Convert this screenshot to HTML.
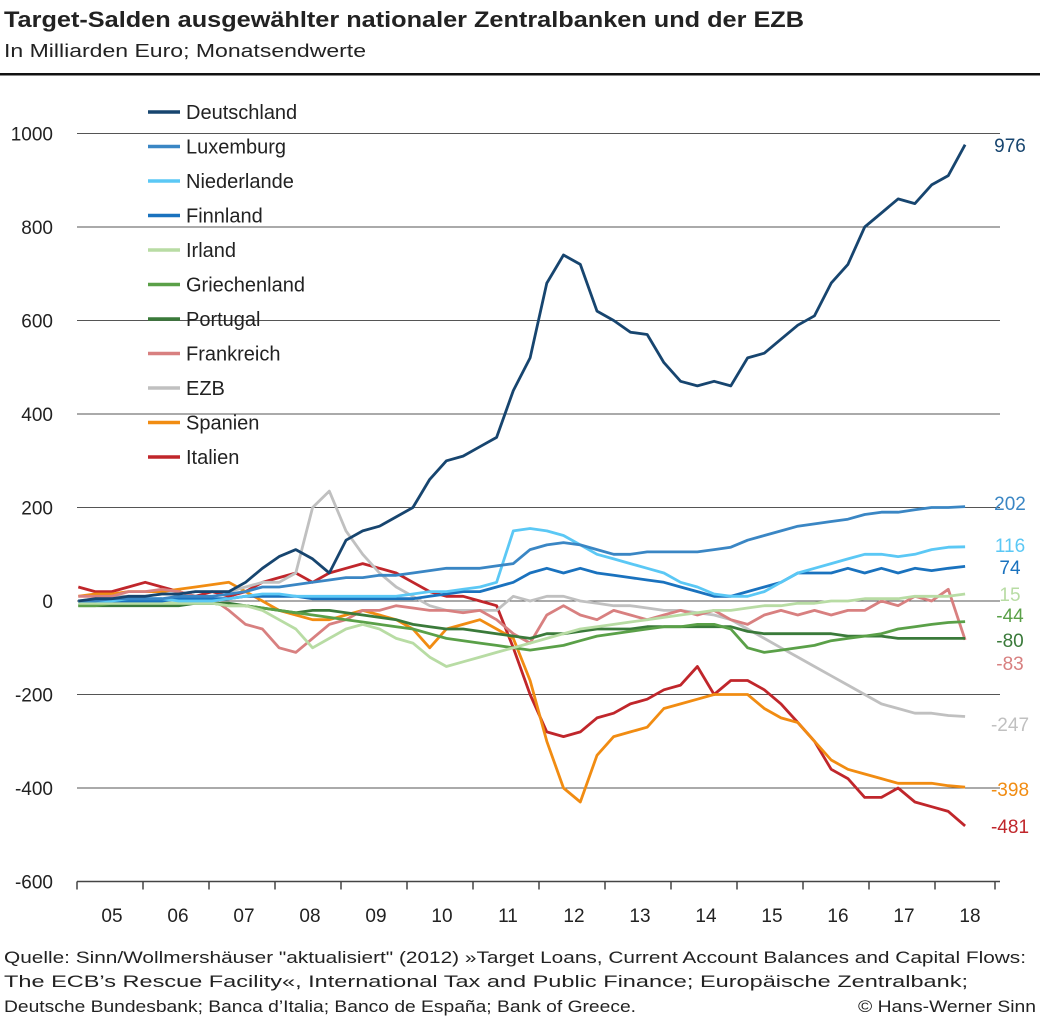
<!DOCTYPE html>
<html><head><meta charset="utf-8"><style>
body{margin:0;background:#fff;width:1040px;height:1024px;overflow:hidden;font-family:"Liberation Sans",sans-serif}
svg{position:absolute;left:0;top:0}
</style></head><body>
<svg id="c" width="1040" height="1024">
<text x="4" y="27" font-size="22" font-weight="bold" fill="#222" textLength="800" lengthAdjust="spacingAndGlyphs">Target-Salden ausgewählter nationaler Zentralbanken und der EZB</text>
<text x="4" y="57" font-size="18" fill="#222" textLength="362" lengthAdjust="spacingAndGlyphs">In Milliarden Euro; Monatsendwerte</text>
<rect x="0" y="73" width="1040" height="2.5" fill="#111"/>
<g id="grid"></g><g id="series"></g><g id="legend"></g><g id="endlabels"></g>
<text x="4" y="963" font-size="17" fill="#222" textLength="1022" lengthAdjust="spacingAndGlyphs">Quelle: Sinn/Wollmershäuser "aktualisiert" (2012) »Target Loans, Current Account Balances and Capital Flows:</text>
<text x="4" y="987" font-size="17" fill="#222" textLength="964" lengthAdjust="spacingAndGlyphs">The ECB’s Rescue Facility«, International Tax and Public Finance; Europäische Zentralbank;</text>
<text x="4" y="1012" font-size="17" fill="#222" textLength="632" lengthAdjust="spacingAndGlyphs">Deutsche Bundesbank; Banca d’Italia; Banco de España; Bank of Greece.</text>
<text x="1036" y="1012" font-size="17" fill="#222" text-anchor="end" textLength="178" lengthAdjust="spacingAndGlyphs">© Hans-Werner Sinn</text>
</svg>
<script>
const yTicks=[1000,800,600,400,200,0,-200,-400,-600];
const xYears=["05","06","07","08","09","10","11","12","13","14","15","16","17","18"];
const seriesNames=["Deutschland","Luxemburg","Niederlande","Finnland","Irland","Griechenland","Portugal","Frankreich","EZB","Spanien","Italien"];
const seriesColors=["#17456f","#3a86c4","#5bc8f5","#1a72be","#b8dca4","#5aa048","#3a7a3a","#d88080","#c0c0c0","#f18c12","#c0262b"];
const endValues=[976,202,116,74,15,-44,-80,-83,-247,-398,-481];
const endLabelY=[145,503,545,567,594,615,640,663,724,789,826];
const startYear=2005.02, step=0.2535;
const deutschland=[0,5,5,10,10,15,15,20,20,20,40,70,95,110,90,60,130,150,160,180,200,260,300,310,330,350,450,520,680,740,720,620,600,575,570,510,470,460,470,460,520,530,560,590,610,680,720,800,830,860,850,890,910,976];
const luxemburg=[0,0,5,5,5,5,10,10,10,15,20,30,30,35,40,45,50,50,55,55,60,65,70,70,70,75,80,110,120,125,120,110,100,100,105,105,105,105,110,115,130,140,150,160,165,170,175,185,190,190,195,200,200,202];
const niederlande=[0,0,0,5,5,5,0,0,0,5,10,15,15,10,10,10,10,10,10,10,15,20,20,25,30,40,150,155,150,140,120,100,90,80,70,60,40,30,15,10,10,20,40,60,70,80,90,100,100,95,100,110,115,116];
const finnland=[0,0,0,0,0,0,5,5,5,5,10,10,10,10,5,5,5,5,5,5,5,10,15,20,20,30,40,60,70,60,70,60,55,50,45,40,30,20,10,10,20,30,40,60,60,60,70,60,70,60,70,65,70,74];
const irland=[-5,-5,-5,-5,-5,-5,-5,-5,-5,-10,-10,-20,-40,-60,-100,-80,-60,-50,-60,-80,-90,-120,-140,-130,-120,-110,-100,-90,-80,-70,-60,-55,-50,-45,-40,-35,-30,-25,-20,-20,-15,-10,-10,-5,-5,0,0,5,5,5,10,10,10,15];
const griechenland=[-10,-10,-5,-5,-5,-5,-5,-5,-5,-10,-10,-15,-20,-25,-30,-35,-40,-45,-50,-55,-60,-70,-80,-85,-90,-95,-100,-105,-100,-95,-85,-75,-70,-65,-60,-55,-55,-50,-50,-60,-100,-110,-105,-100,-95,-85,-80,-75,-70,-60,-55,-50,-46,-44];
const portugal=[-10,-10,-10,-10,-10,-10,-10,-5,-5,-5,-10,-15,-20,-25,-20,-20,-25,-30,-35,-40,-50,-55,-60,-60,-65,-70,-75,-80,-70,-70,-65,-60,-60,-60,-55,-55,-55,-55,-55,-55,-65,-70,-70,-70,-70,-70,-75,-75,-75,-80,-80,-80,-80,-80];
const frankreich=[10,10,10,20,20,25,20,10,5,-20,-50,-60,-100,-110,-80,-50,-40,-20,-20,-10,-15,-20,-20,-25,-20,-40,-70,-90,-30,-10,-30,-40,-20,-30,-40,-30,-20,-30,-20,-40,-50,-30,-20,-30,-20,-30,-20,-20,0,-10,10,0,25,-83];
const ezb=[0,5,10,10,10,15,15,20,20,20,30,40,40,60,200,235,150,100,60,30,10,-10,-20,-20,-20,-20,10,0,10,10,0,-5,-10,-10,-15,-20,-20,-25,-30,-40,-60,-80,-100,-120,-140,-160,-180,-200,-220,-230,-240,-240,-245,-247];
const spanien=[10,15,15,20,20,20,25,30,35,40,20,0,-20,-30,-40,-40,-30,-20,-30,-40,-60,-100,-60,-50,-40,-60,-80,-170,-300,-400,-430,-330,-290,-280,-270,-230,-220,-210,-200,-200,-200,-230,-250,-260,-300,-340,-360,-370,-380,-390,-390,-390,-395,-398];
const italien=[30,20,20,30,40,30,20,10,20,10,20,40,50,60,40,60,70,80,70,60,40,20,10,10,0,-10,-100,-200,-280,-290,-280,-250,-240,-220,-210,-190,-180,-140,-200,-170,-170,-190,-220,-260,-300,-360,-380,-420,-420,-400,-430,-440,-450,-481];
const allSeries=[deutschland,luxemburg,niederlande,finnland,irland,griechenland,portugal,frankreich,ezb,spanien,italien];

const NS="http://www.w3.org/2000/svg";
const X0=77, YW=66, Y0=601, PX=0.4675;
function xs(t){return X0+(t-2005)*YW;}
function ys(v){return Y0-v*PX;}
function mk(tag,attrs,parent){const e=document.createElementNS(NS,tag);for(const k in attrs)e.setAttribute(k,attrs[k]);parent.appendChild(e);return e;}
const grid=document.getElementById('grid');
yTicks.forEach(v=>{
  if(v>-600){const l=mk('line',{x1:X0,x2:1000,y1:ys(v),y2:ys(v),stroke:'#555','stroke-width':1},grid);
  
  }
  const t=mk('text',{x:53,y:ys(v)+7,'font-size':19,'text-anchor':'end',fill:'#222'},grid);
  t.textContent=v;
  
  
});
const ax=mk('line',{x1:X0,x2:1000,y1:ys(-600),y2:ys(-600),stroke:'#444','stroke-width':1.5},grid);


xYears.forEach((y,i)=>{
  const tk=mk('line',{x1:X0+i*YW,x2:X0+i*YW,y1:ys(-600),y2:ys(-600)+8,stroke:'#444','stroke-width':1.5},grid);
  
  
  const t=mk('text',{x:X0+i*YW+35,y:922,'font-size':19,'text-anchor':'middle',fill:'#222'},grid);
  t.textContent=y;
  
  
});
const tk2=mk('line',{x1:X0+14*YW-6,x2:X0+14*YW-6,y1:ys(-600),y2:ys(-600)+8,stroke:'#444','stroke-width':1.5},grid);


const sg=document.getElementById('series');
for(let s=allSeries.length-1;s>=0;s--){
  const d=allSeries[s].map((v,i)=>(i?'L':'M')+xs(startYear+i*step).toFixed(1)+' '+ys(v).toFixed(1)).join(' ');
  const p=mk('path',{d:d,fill:'none',stroke:seriesColors[s],'stroke-width':2.8,'stroke-linejoin':'round'},sg);
  
  
}
const lg=document.getElementById('legend');
seriesNames.forEach((n,i)=>{
  const y=112+i*34.5;
  const l=mk('line',{x1:148,x2:180,y1:y,y2:y,stroke:seriesColors[i],'stroke-width':3.5},lg);
  
  
  const t=mk('text',{x:186,y:y+7,'font-size':20,fill:'#222'},lg);
  t.textContent=n;
  
  
});
const el=document.getElementById('endlabels');
endValues.forEach((v,i)=>{
  const t=mk('text',{x:1010,y:endLabelY[i]+7,'font-size':19,'text-anchor':'middle',fill:seriesColors[i]},el);
  t.textContent=v;
  
  
});
</script>
</body></html>
